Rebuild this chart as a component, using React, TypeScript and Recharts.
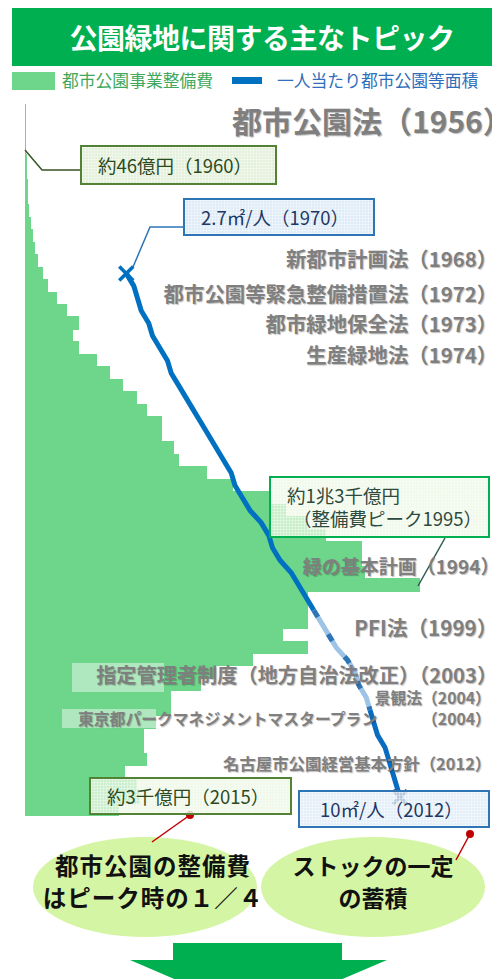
import { ComposedChart, Bar, Line, XAxis, YAxis } from 'recharts';

// 年度（グラフの縦方向）
const years = [
  1957, 1958, 1959, 1960, 1961, 1962, 1963, 1964, 1965, 1966,
  1967, 1968, 1969, 1970, 1971, 1972, 1973, 1974, 1975, 1976,
  1977, 1978, 1979, 1980, 1981, 1982, 1983, 1984, 1985, 1986,
  1987, 1988, 1989, 1990, 1991, 1992, 1993, 1994, 1995, 1996,
  1997, 1998, 1999, 2000, 2001, 2002, 2003, 2004, 2005, 2006,
  2007, 2008, 2009, 2010, 2011, 2012, 2013,
];

// 都市公園事業整備費（億円）
const parkCost = [
  20, 25, 35, 46, 60, 70, 90, 110, 140, 190,
  260, 330, 430, 590, 760, 1050, 1380, 1780, 1580, 1780,
  2370, 2800, 3220, 3680, 4010, 4500, 4500, 4900, 5070, 5990,
  6840, 8100, 8600, 9300, 9900, 11100, 11100, 11200, 13000, 9300,
  9300, 9300, 8500, 9300, 7500, 6300, 5800, 4800, 4800, 4300,
  3900, 3900, 4000, 3300, 3700, 3800, 3100,
];

// 一人当たり都市公園等面積（㎡/人）
const areaYears = [
  1970, 1971, 1972, 1973, 1974, 1975, 1976, 1977, 1978, 1979,
  1980, 1981, 1982, 1983, 1984, 1985, 1986, 1987, 1988, 1989,
  1990, 1991, 1992, 1993, 1994, 1995, 1996, 1997, 1998, 1999,
  2000, 2001, 2002, 2003, 2004, 2005, 2006, 2007, 2008, 2009,
  2010, 2011, 2012,
];
const areaPerPerson = [
  2.7, 2.9, 3.0, 3.1, 3.3, 3.4, 3.6, 3.8, 3.9, 4.1,
  4.3, 4.5, 4.7, 4.9, 5.1, 5.3, 5.5, 5.6, 5.8, 6.0,
  6.3, 6.5, 6.6, 6.8, 7.1, 7.3, 7.5, 7.7, 7.9, 8.1,
  8.3, 8.6, 8.8, 8.9, 9.1, 9.2, 9.3, 9.4, 9.6, 9.7,
  9.8, 9.9, 10.0,
];

const FONT = '"Noto Sans CJK JP", "Noto Sans", sans-serif';
const GRAY = '#7F7F7F';
const BAR = '#6DD68A';

const rows = years.map((year, i) => {
  const k = areaYears.indexOf(year);
  const a = k >= 0 ? areaPerPerson[k] : null;
  return {
    year,
    cost: parkCost[i],
    areaA: a !== null && year <= 1997 ? a : null,
    areaB: a !== null && year >= 1997 && year <= 2005 ? a : null,
    areaC: a !== null && year >= 2005 ? a : null,
  };
});

// bars touch each other: overlap them by a pixel so no seams show
const solidBar = (props: any) => {
  const { x, y, width, height } = props;
  if (x == null || y == null || !width) return <g />;
  return (
    <rect x={x} y={y - 0.6} width={width} height={height + 1.2} fill={BAR} shapeRendering="crispEdges" />
  );
};

const crossDot = (markYear: number, color: string) => (props: any) => {
  const { cx, cy, payload, index } = props;
  if (!payload || payload.year !== markYear || cx == null || cy == null) {
    return <g key={`n-${markYear}-${index}`} />;
  }
  const s = 7;
  return (
    <g key={`x-${markYear}`}>
      <line x1={cx - s} y1={cy - s} x2={cx + s} y2={cy + s} stroke={color} strokeWidth={3.5} />
      <line x1={cx - s} y1={cy + s} x2={cx + s} y2={cy - s} stroke={color} strokeWidth={3.5} />
    </g>
  );
};

const gridBg = (base: string) => ({
  backgroundColor: base,
  backgroundImage:
    'linear-gradient(rgba(255,255,255,0.35) 1px, transparent 1px), linear-gradient(90deg, rgba(255,255,255,0.35) 1px, transparent 1px)',
  backgroundSize: '3px 3px',
});

const shadow = '1px 1px 1px rgba(0,0,0,0.25)';

// full-width closing paren: keep only its visible half so right-aligned text ends on the glyph
function Tail({ ch, lh }: { ch: string; lh: number }) {
  return (
    <span
      style={{
        display: 'inline-block', width: '0.5em', overflow: 'hidden',
        verticalAlign: 'top', lineHeight: `${lh}px`, height: lh,
      }}
    >
      {ch}
    </span>
  );
}

function Topic({ text, cy, right = 5, size = 20.4 }: { text: string; cy: number; right?: number; size?: number }) {
  const lh = Math.round(size * 1.15);
  return (
    <div
      style={{
        position: 'absolute',
        right,
        top: cy - lh / 2,
        fontSize: size,
        lineHeight: `${lh}px`,
        height: lh,
        fontWeight: 700,
        color: GRAY,
        whiteSpace: 'nowrap',
        textShadow: shadow,
      }}
    >
      {text.slice(0, -1)}
      <Tail ch={text.slice(-1)} lh={lh} />
    </div>
  );
}

function NoteBox(props: {
  left: number; top: number; width: number; height: number;
  border: string; bg: string; color: string; children: any; pad?: number;
}) {
  return (
    <div
      style={{
        position: 'absolute',
        left: props.left,
        top: props.top,
        width: props.width,
        height: props.height,
        boxSizing: 'border-box',
        border: `2px solid ${props.border}`,
        ...gridBg(props.bg),
        color: props.color,
        fontSize: 18.5,
        lineHeight: '23px',
        paddingLeft: props.pad ?? 16,
        display: 'flex',
        flexDirection: 'column',
        justifyContent: 'center',
        whiteSpace: 'nowrap',
      }}
    >
      {props.children}
    </div>
  );
}

export default function App() {
  return (
    <div
      style={{
        position: 'absolute',
        left: 0,
        top: 0,
        width: 492,
        height: 979,
        overflow: 'hidden',
        background: '#fff',
        fontFamily: FONT,
      }}
    >
      {/* title */}
      <div
        style={{
          position: 'absolute', left: 12, top: 8, width: 480, height: 58,
          background: '#00B050', color: '#fff', fontSize: 28, fontWeight: 700,
          display: 'flex', alignItems: 'center', justifyContent: 'center', paddingLeft: 20,
          boxSizing: 'border-box', letterSpacing: -0.5,
        }}
      >
        公園緑地に関する主なトピック
      </div>

      {/* legend */}
      <div style={{ position: 'absolute', left: 12, top: 72, width: 43, height: 18, background: BAR }} />
      <div style={{ position: 'absolute', left: 62, top: 69, fontSize: 16.8, color: '#3FA85C', lineHeight: '22px' }}>
        都市公園事業整備費
      </div>
      <div style={{ position: 'absolute', left: 232, top: 77, width: 30, height: 7, background: '#0070C0' }} />
      <div style={{ position: 'absolute', left: 277, top: 69, fontSize: 16.8, color: '#2F6EBA', lineHeight: '22px' }}>
        一人当たり都市公園等面積
      </div>

      <div style={{ position: 'absolute', left: 0, top: 0 }}>
        <ComposedChart
          width={492}
          height={979}
          layout="vertical"
          data={rows}
          barCategoryGap={0}
          margin={{ top: 105, right: 2, bottom: 163, left: 25 }}
        >
          <YAxis type="category" dataKey="year" hide />
          <XAxis type="number" xAxisId="cost" domain={[0, 15300]} hide />
          <XAxis type="number" xAxisId="area" domain={[0, 12.4]} hide />
          <Bar dataKey="cost" xAxisId="cost" fill={BAR} shape={solidBar} isAnimationActive={false} />
          <Line
            dataKey="areaA" xAxisId="area" type="linear" stroke="#0070C0" strokeWidth={5}
            dot={crossDot(1970, '#0070C0')} activeDot={false} isAnimationActive={false}
          />
          <Line
            dataKey="areaB" xAxisId="area" type="linear" stroke="#9DC3E6" strokeWidth={5}
            dot={false} activeDot={false} isAnimationActive={false}
          />
          <Line
            dataKey="areaB" xAxisId="area" type="linear" stroke="#2E75B6" strokeWidth={5}
            strokeDasharray="8 20" dot={false} activeDot={false} isAnimationActive={false}
          />
          <Line
            dataKey="areaC" xAxisId="area" type="linear" stroke="#0A6CC0" strokeWidth={5}
            dot={crossDot(2012, '#1F3864')} activeDot={false} isAnimationActive={false}
          />
        </ComposedChart>
      </div>

      {/* connectors, bubbles, arrow */}
      <svg width={492} height={979} style={{ position: 'absolute', left: 0, top: 0 }}>
        <polyline points="25,150 42,170 80,170" fill="none" stroke="#375623" strokeWidth={1.5} />
        <polyline points="183,227 150,227 133,267" fill="none" stroke="#2E75B6" strokeWidth={1.5} />
        <line x1={445} y1={538} x2={418} y2={586} stroke="#2F5D50" strokeWidth={1.5} />
        <ellipse cx={145} cy={887} rx={112} ry={50} fill="#D4F5A3" />
        <ellipse cx={373} cy={887} rx={112} ry={50} fill="#D4F5A3" />
        <line x1={190} y1={815} x2={152} y2={842} stroke="#C00000" strokeWidth={1.5} />
        <circle cx={190} cy={815} r={4} fill="#C00000" />
        <line x1={470} y1={834} x2={456} y2={860} stroke="#C00000" strokeWidth={1.5} />
        <circle cx={470} cy={834} r={4} fill="#C00000" />
        <polygon points="173,943 342,943 342,960 387,960 258,1015 130,960 173,960" fill="#00B050" />
      </svg>

      {/* topics */}
      <div
        style={{
          position: 'absolute', left: 232, top: 102, fontSize: 30, lineHeight: '36px',
          fontWeight: 700, color: GRAY, whiteSpace: 'nowrap', textShadow: shadow,
        }}
      >
        都市公園法（1956）
      </div>
      <Topic text="新都市計画法（1968）" cy={258} />
      <Topic text="都市公園等緊急整備措置法（1972）" cy={293} />
      <Topic text="都市緑地保全法（1973）" cy={323} />
      <Topic text="生産緑地法（1974）" cy={354} />
      <Topic text="緑の基本計画（1994）" cy={566} right={2} size={19} />
      <Topic text="PFI法（1999）" cy={627} size={20.6} />
      <div
        style={{
          position: 'absolute', left: 72, top: 663, width: 92, height: 29,
          background: 'rgba(255,255,255,0.45)',
        }}
      />
      <Topic text="指定管理者制度（地方自治法改正）（2003）" cy={674} size={20.2} />
      <Topic text="景観法（2004）" cy={698} right={9} size={15.8} />
      <div
        style={{
          position: 'absolute', left: 62, top: 709, width: 94, height: 19,
          background: 'rgba(255,255,255,0.45)',
        }}
      />
      <div
        style={{
          position: 'absolute', left: 78, width: 405, top: 709, fontSize: 15.8, lineHeight: '19px', height: 19,
          fontWeight: 700, color: GRAY, whiteSpace: 'nowrap', display: 'flex', justifyContent: 'space-between',
          textShadow: shadow,
        }}
      >
        <span>東京都パークマネジメントマスタープラン</span>
        <span>（2004<Tail ch="）" lh={19} /></span>
      </div>
      <Topic text="名古屋市公園経営基本方針（2012）" cy={763} right={9} size={16.4} />

      {/* value boxes */}
      <NoteBox left={80} top={145} width={197} height={40} border="#548235" bg="rgba(226,240,217,0.95)" color="#2D4A1E">
        約46億円（1960）
      </NoteBox>
      <NoteBox left={183} top={198} width={192} height={38} border="#2E75B6" bg="rgba(221,235,247,0.95)" color="#1F3864">
        2.7㎡/人（1970）
      </NoteBox>
      <NoteBox left={269} top={476} width={221} height={62} border="#00B050" bg="rgba(235,246,226,0.72)" color="#2D4A3E">
        <div>約1兆3千億円</div>
        <div style={{ paddingLeft: 6 }}>（整備費ピーク1995）</div>
      </NoteBox>
      <NoteBox left={89} top={777} width={203} height={38} border="#548235" bg="rgba(235,246,226,0.75)" color="#2D4A1E">
        約3千億円（2015）
      </NoteBox>
      <NoteBox left={298} top={790} width={192} height={38} border="#2E75B6" bg="rgba(221,235,247,0.8)" color="#1F3864" pad={20}>
        10㎡/人（2012）
      </NoteBox>

      {/* bubble texts */}
      <div
        style={{
          position: 'absolute', left: 33, width: 240, top: 849, textAlign: 'center', fontSize: 23.5,
          lineHeight: '32px', fontWeight: 700, color: '#111', letterSpacing: 1,
        }}
      >
        都市公園の整備費<br />はピーク時の１／４
      </div>
      <div
        style={{
          position: 'absolute', left: 261, width: 224, top: 849, textAlign: 'center', fontSize: 23,
          lineHeight: '32px', fontWeight: 700, color: '#111',
        }}
      >
        ストックの一定<br />の蓄積
      </div>
    </div>
  );
}
